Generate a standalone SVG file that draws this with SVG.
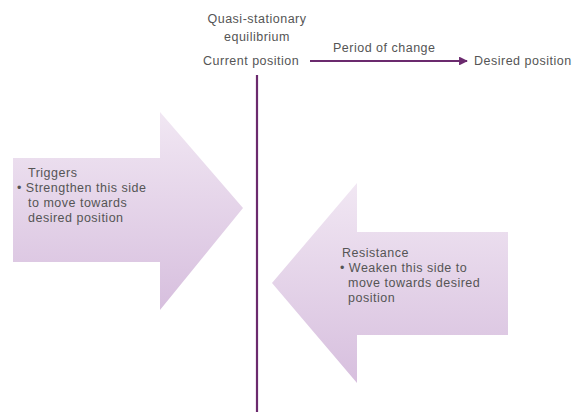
<svg xmlns="http://www.w3.org/2000/svg" width="587" height="414" viewBox="0 0 587 414">
<defs>
<linearGradient id="g" x1="0" y1="0" x2="0" y2="1">
<stop offset="0" stop-color="#f1e7f3"/>
<stop offset="1" stop-color="#d7bfde"/>
</linearGradient>
<marker id="ah" viewBox="0 0 10 10" refX="9" refY="5" markerWidth="4" markerHeight="4" orient="auto">
<path d="M0,0 L10,5 L0,10 z" fill="#6b2a6e"/>
</marker>
<style>
text{font-family:"Liberation Sans",Arial,sans-serif;font-size:12.5px;letter-spacing:0.5px;fill:#555;}
.c{text-anchor:middle;}
</style>
</defs>
<rect width="587" height="414" fill="#fff"/>
<g id="connectors">
<line x1="257" y1="75" x2="257" y2="412" stroke="#6b2a6e" stroke-width="2.2"/>
<line x1="310" y1="61" x2="467" y2="61" stroke="#6b2a6e" stroke-width="2.2" marker-end="url(#ah)"/>
</g>
<g id="header">
<text class="c" x="257" y="23">Quasi-stationary</text>
<text class="c" x="257" y="41">equilibrium</text>
<text x="203" y="65">Current position</text>
<text x="333" y="52">Period of change</text>
<text x="474" y="65">Desired position</text>
</g>
<g id="triggers">
<path d="M13,158 H160 V112 L243,208 L160,310 V262 H13 Z" fill="url(#g)"/>
<text x="28" y="177">Triggers</text>
<text x="17" y="192">• Strengthen this side</text>
<text x="28" y="207">to move towards</text>
<text x="28" y="222">desired position</text>
</g>
<g id="resistance">
<path d="M508,232 H357 V183 L272,283 L357,383 V335 H508 Z" fill="url(#g)"/>
<text x="342" y="257">Resistance</text>
<text x="340" y="272">• Weaken this side to</text>
<text x="348" y="287">move towards desired</text>
<text x="348" y="302">position</text>
</g>
</svg>
